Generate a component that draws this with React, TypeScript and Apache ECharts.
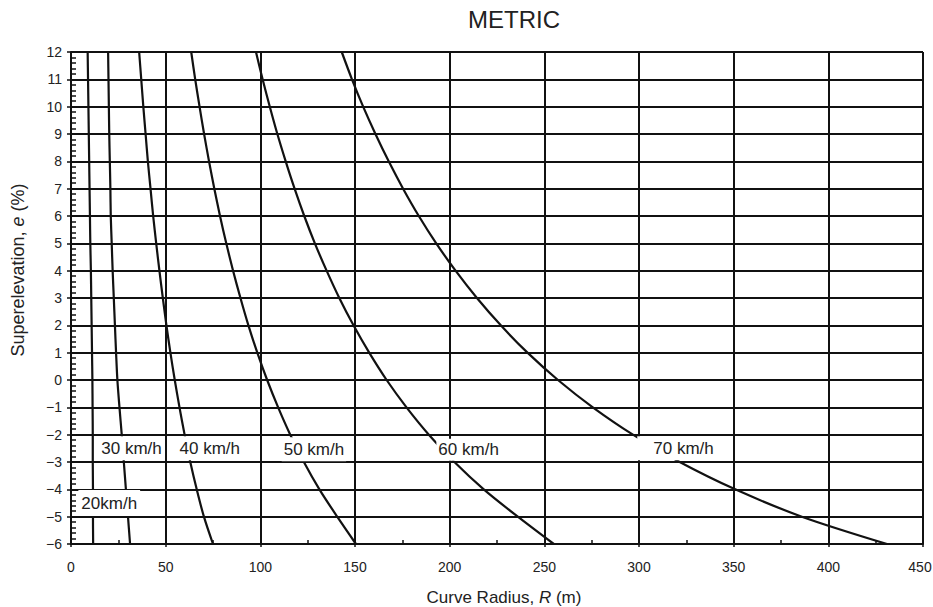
import React, { useEffect, useRef } from "react";
import * as echarts from "echarts";

// Superelevation levels (%) at which each curve's radius was read
const eLevels = [12, 11, 10, 9, 8, 7, 6, 5, 4, 3, 2, 1, 0, -1, -2, -3, -4, -5, -6];

// Curve radius R (m) at each superelevation level
const r20 = [8.8, 9.0, 9.2, 9.4, 9.6, 9.8, 10.0, 10.2, 10.5, 10.7, 10.9, 11.1, 11.3, 11.4, 11.5, 11.5, 11.6, 11.6, 11.7];
const r30 = [19.6, 19.8, 20.0, 20.2, 20.5, 20.8, 21.0, 21.5, 22.0, 22.6, 23.2, 23.8, 24.5, 25.6, 26.8, 27.9, 29.0, 30.1, 31.2];
const r40 = [36.0, 37.1, 38.2, 39.4, 40.6, 42.0, 43.4, 45.0, 46.7, 48.5, 50.4, 52.5, 54.8, 57.3, 60.0, 63.0, 66.4, 70.2, 75.0];
const r50 = [63.5, 65.6, 67.9, 70.3, 72.9, 75.7, 78.7, 82.0, 85.6, 89.5, 93.7, 98.4, 103.6, 109.4, 115.8, 123.0, 131.2, 140.6, 150.5];
const r60 = [97.7, 101.2, 105.0, 109.0, 113.4, 118.1, 123.2, 128.8, 135.0, 141.7, 149.2, 157.5, 166.7, 177.2, 189.0, 202.5, 218.0, 236.0, 255.0];
const r70 = [143.0, 148.4, 154.3, 160.8, 167.8, 175.4, 183.7, 192.9, 203.1, 214.4, 227.0, 241.1, 257.2, 275.6, 296.8, 321.5, 350.8, 386.0, 431.0];

const speedNames = ["20 km/h", "30 km/h", "40 km/h", "50 km/h", "60 km/h", "70 km/h"];
const radii = [r20, r30, r40, r50, r60, r70];

// Curve labels and where they sit (R, e)
const labelTexts = ["20km/h", "30 km/h", "40 km/h", "50 km/h", "60 km/h", "70 km/h"];
const labelR = [20.2, 31.7, 73.3, 128.3, 210.0, 319.8];
const labelE = [-4.5, -2.5, -2.5, -2.53, -2.55, -2.5];

const FONT = "Liberation Sans, Arial, Helvetica, sans-serif";
const INK = "#111";
const TEXT = "#222";

export default function App() {
  const ref = useRef<HTMLDivElement>(null);

  useEffect(() => {
    if (!ref.current) return;
    const chart = echarts.init(ref.current, undefined, { renderer: "svg" });

    const labelPadding = [
      [8, 3, 0, 3],
      [3, 1, 3, 2],
      [3, 2, 3, 2],
      [3, 2, 3, 2],
      [2, 2, 2, 2],
      [3, 2, 3, 16],
    ];

    const lineSeries = radii.map((rs, i) => ({
      name: speedNames[i],
      type: "line",
      xAxisIndex: 0,
      yAxisIndex: 0,
      data: rs.map((r, j) => [r, eLevels[j]]),
      showSymbol: false,
      symbol: "none",
      smooth: 0.3,
      lineStyle: { color: INK, width: 2.2 },
      z: 3,
    }));

    const labelSeries = {
      type: "scatter",
      xAxisIndex: 0,
      yAxisIndex: 0,
      symbolSize: 1,
      itemStyle: { color: "rgba(0,0,0,0)", opacity: 1 },
      z: 10,
      data: labelTexts.map((t, i) => ({
        value: [labelR[i], labelE[i]],
        label: {
          show: true,
          position: "inside",
          formatter: t,
          padding: labelPadding[i],
        },
      })),
      label: {
        show: true,
        position: "inside",
        fontSize: 17,
        lineHeight: 18,
        color: TEXT,
        opacity: 1,
        fontFamily: FONT,
        backgroundColor: "#fff",
      },
      labelLayout: { hideOverlap: false },
      emphasis: { disabled: true },
      silent: true,
    };

    const option = {
      animation: false,
      backgroundColor: "#fff",
      title: {
        text: "METRIC",
        left: 468,
        top: 7,
        padding: 0,
        textStyle: { fontSize: 24, fontWeight: "normal", color: TEXT, fontFamily: FONT },
      },
      grid: {
        left: 71,
        right: 10,
        top: 52,
        bottom: 63,
        containLabel: false,
        outerBoundsMode: "none",
      },
      xAxis: [
        {
          type: "value",
          min: 0,
          max: 450,
          interval: 50,
          position: "bottom",
          name: "Curve Radius, {i|R} (m)",
          nameLocation: "middle",
          nameGap: 45,
          nameTextStyle: {
            fontSize: 17,
            color: TEXT,
            fontFamily: FONT,
            padding: [0, 0, 0, 14],
            rich: { i: { fontSize: 17, fontStyle: "italic", color: TEXT, fontFamily: FONT } },
          },
          axisLine: { show: true, onZero: false, lineStyle: { color: INK, width: 2 } },
          axisTick: { show: false, inside: true },
          minorTick: { show: true, splitNumber: 2, length: 4, lineStyle: { color: INK, width: 1.5 } },
          splitLine: { show: true, lineStyle: { color: INK, width: 2 } },
          axisLabel: {
            fontSize: 14,
            margin: 16,
            color: TEXT,
            fontFamily: FONT,
            formatter: (v: number) => (v === 450 ? "{hi|" + v + "}" : String(v)),
            rich: {
              hi: { fontSize: 14, color: TEXT, fontFamily: FONT, padding: [0, 6, 4, 0] },
            },
          },
        },
        {
          type: "value",
          min: 0,
          max: 450,
          interval: 50,
          position: "bottom",
          axisLine: { show: false, onZero: false },
          axisTick: { show: true, inside: false, length: 3, lineStyle: { color: INK, width: 1.5 } },
          axisLabel: { show: false },
          splitLine: { show: false },
        },
      ],
      yAxis: [
        {
          type: "value",
          min: -6,
          max: 12,
          interval: 1,
          position: "left",
          name: "Superelevation, {i|e} (%)",
          nameLocation: "middle",
          nameGap: 44,
          nameTextStyle: {
            fontSize: 18,
            color: TEXT,
            fontFamily: FONT,
            padding: [0, 0, 0, 56],
            rich: { i: { fontSize: 18, fontStyle: "italic", color: TEXT, fontFamily: FONT } },
          },
          axisLine: { show: true, onZero: false, lineStyle: { color: INK, width: 2 } },
          axisTick: { show: false, inside: true },
          minorTick: { show: true, splitNumber: 5, length: 5, lineStyle: { color: INK, width: 1.5 } },
          splitLine: { show: true, lineStyle: { color: INK, width: 2 } },
          axisLabel: {
            fontSize: 14,
            margin: 9,
            color: TEXT,
            fontFamily: FONT,
            formatter: (v: number) => String(v).replace("-", "\u2212"),
          },
        },
        {
          type: "value",
          min: -6,
          max: 12,
          interval: 1,
          position: "left",
          axisLine: { show: false, onZero: false },
          axisTick: { show: true, inside: false, length: 4, lineStyle: { color: INK, width: 1.5 } },
          axisLabel: { show: false },
          splitLine: { show: false },
        },
      ],
      series: [...lineSeries, labelSeries],
    };

    chart.setOption(option as any);
    return () => chart.dispose();
  }, []);

  return (
    <div
      ref={ref}
      style={{ position: "absolute", left: 0, top: 0, width: 933, height: 607, background: "#fff" }}
    />
  );
}
